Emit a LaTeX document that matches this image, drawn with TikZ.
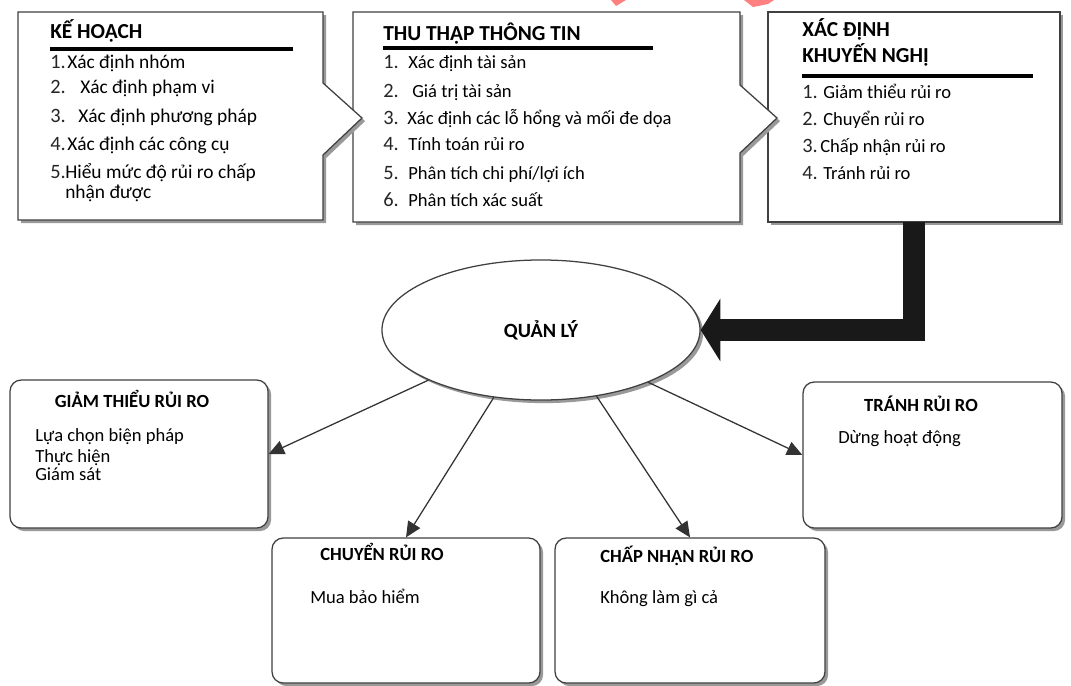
\documentclass[tikz,border=0pt]{standalone}
\usepackage{fontspec}
\setmainfont{Carlito}
\usetikzlibrary{shapes.geometric,arrows.meta,shadows,fit}

\tikzset{
  boxline/.style={draw=black!75, line width=0.9pt, fill=white},
  boxshadow/.style={drop shadow={shadow xshift=2.2pt, shadow yshift=-2.2pt, fill=black!40, opacity=1}},
  headrule/.style={line width=2.2pt},
  tophead/.style={font=\fontsize{15.2}{18}\selectfont\bfseries, anchor=base west, inner sep=0},
  item/.style={font=\fontsize{13.2}{16}\selectfont, anchor=base west, inner sep=0},
  bigitem/.style={item, font=\fontsize{13.8}{16}\selectfont},
  num/.style={font=\fontsize{14.5}{17}\selectfont, anchor=base west, inner sep=0, text=black!85},
  riskbox/.style={boxline, boxshadow, rounded corners=8pt, inner sep=0},
  riskhead/.style={font=\fontsize{13.2}{16}\selectfont\bfseries, inner sep=0},
  link/.style={draw=black!80, line width=0.9pt, -{Triangle[length=11pt,width=10pt]}},
}

\begin{document}
\begin{tikzpicture}[x=0.025cm, y=-0.025cm]
  \useasboundingbox (0,0) rectangle (1071,685);

  % watermark remnants
  \fill[red!50] (611,0) -- (626,0) -- (616,6) -- cycle;
  \fill[red!50] (744,0) -- (774,0) -- (768,4) -- (753,7) -- cycle;

  % recommendations box
  \draw[boxline, boxshadow] (768,12) rectangle (1060,222);
  \node[fit={(768,12) (1060,222)}, inner sep=0] (rec) {};

  % information box
  \draw[boxline, boxshadow] (353,12) -- (740,12) -- (740,85) -- (777,118)
    -- (740,153) -- (740,222) -- (353,222) -- cycle;

  % planning box
  \draw[boxline, boxshadow] (18,12) -- (323,12) -- (323,83) -- (362,118)
    -- (323,155) -- (323,220) -- (18,220) -- cycle;

  % headings
  \node[tophead] (planhead) at (50,38) {KẾ HOẠCH};
  \draw[headrule] (50,49) -- (293,49);
  \node[tophead] (infohead) at (383,40) {THU THẬP THÔNG TIN};
  \draw[headrule] (383,48) -- (653,48);
  \node[tophead] (rechead) at (802,36) {XÁC ĐỊNH};
  \node[tophead] (rechead2) at (802,62) {KHUYẾN NGHỊ};
  \draw[headrule] (802,76) -- (1033,76);

  % list items
  \foreach \n/\tx/\by/\txt [count=\k] in {1./67/68/Xác định nhóm, 2./80/93/Xác định phạm vi,
      3./78/122/Xác định phương pháp, 4./67/150/Xác định các công cụ,
      5./65/178/Hiểu mức độ rủi ro chấp} {
    \node[num] (plann\k) at (50,\by) {\n};
    \node[bigitem] (plant\k) at (\tx,\by) {\txt};
  }
  \node[bigitem] (plant6) at (65,198) {nhận được};

  \foreach \n/\tx/\by/\txt [count=\k] in {1./408/68/Xác định tài sản, 2./412/97/Giá trị tài sản,
      3./407/124/Xác định các lỗ hổng và mối đe dọa, 4./408/150/Tính toán rủi ro,
      5./408/179/{Phân tích chi phí/lợi ích}, 6./408/206/Phân tích xác suất} {
    \node[num] (infon\k) at (383,\by) {\n};
    \node[item] (infot\k) at (\tx,\by) {\txt};
  }

  \foreach \n/\tx/\by/\txt [count=\k] in {1./823/98/Giảm thiểu rủi ro, 2./823/125/Chuyển rủi ro,
      3./820/152/Chấp nhận rủi ro, 4./823/179/Tránh rủi ro} {
    \node[num] (recn\k) at (802,\by) {\n};
    \node[item] (rect\k) at (\tx,\by) {\txt};
  }

  % management
  \node[ellipse, boxline, boxshadow, minimum width=7.95cm, minimum height=3.5cm, inner sep=0,
        font=\fontsize{14.4}{17}\selectfont\bfseries] (mgmt) at (541,330) {QUẢN LÝ};
  \draw[line width=15pt, black!90, -{Triangle[length=14pt,width=44pt]}] (rec.south) |- (mgmt.east);

  % outcome boxes
  \node[riskbox, fit={(10,380) (268,528)}] (reduce) {};
  \node[riskbox, fit={(272,538) (540,683)}] (transfer) {};
  \node[riskbox, fit={(555,538) (825,683)}] (accept) {};
  \node[riskbox, fit={(803,382) (1062,528)}] (avoid) {};

  \node[riskhead, anchor=base] (reducehead) at (132,407) {GIẢM THIỂU RỦI RO};
  \node[item] (reduce1) at (35,441) {Lựa chọn biện pháp};
  \node[item] (reduce2) at (35,462) {Thực hiện};
  \node[item] (reduce3) at (35,480) {Giám sát};

  \node[riskhead, anchor=base] (transferhead) at (382,560) {CHUYỂN RỦI RO};
  \node[item] (transfer1) at (310,603) {Mua bảo hiểm};

  \node[riskhead, anchor=base west] (accepthead) at (600,562) {CHẤP NHẬN RỦI RO};
  \node[item] (accept1) at (600,603) {Không làm gì cả};

  \node[riskhead, anchor=base] (avoidhead) at (921,411) {TRÁNH RỦI RO};
  \node[item] (avoid1) at (838,443) {Dừng hoạt động};

  % links
  \draw[link] (mgmt.204) -- (reduce.east);
  \draw[link] (mgmt.235) -- (transfer.north);
  \draw[link] (mgmt.310) -- (accept.north);
  \draw[link] (mgmt.334) -- (avoid.west);
\end{tikzpicture}
\end{document}
